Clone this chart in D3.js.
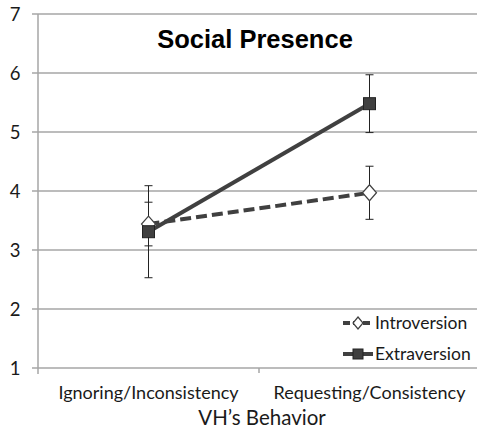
<!DOCTYPE html>
<html>
<head>
<meta charset="utf-8">
<script src="https://cdn.jsdelivr.net/npm/d3@7"></script>
<style>
  body { margin: 0; background: #fff; }
  text { font-family: Lato, "Open Sans", sans-serif; fill: #1a1a1a; }
</style>
</head>
<body>
<svg class="chart"></svg>
<script>
const categories = ['Ignoring/Inconsistency', 'Requesting/Consistency']
const introMeans = [3.44, 3.97]
const introErr = [0.37, 0.45]
const extraMeans = [3.31, 5.48]
const extraErr = [0.78, 0.49]
const yTicks = [1, 2, 3, 4, 5, 6, 7]

const margin = { top: 14, right: -3, bottom: 64, left: 38 }
const width = 477 - margin.left - margin.right,
      height = 432 - margin.top - margin.bottom

const x = d3.scaleBand()
  .domain(categories)
  .range([0, width])

const y = d3.scaleLinear()
  .domain([1, 7])
  .range([height, 0])

const svg = d3.select('.chart')
  .attr('width', 477)
  .attr('height', 432)

const chart = svg.append('g')
  .attr('transform', `translate(${margin.left}, ${margin.top})`)

// gridlines
chart.append('g')
  .selectAll('line')
  .data(yTicks)
  .enter()
  .append('line')
  .attr('x1', -6)
  .attr('x2', width)
  .attr('y1', d => y(d))
  .attr('y2', d => y(d))
  .attr('stroke', '#a6a6a6')
  .attr('stroke-width', 1.5)

// y axis line
chart.append('line')
  .attr('x1', 0).attr('x2', 0)
  .attr('y1', 0).attr('y2', height + 6)
  .attr('stroke', '#a6a6a6')
  .attr('stroke-width', 1.5)

// category boundary tick
chart.append('line')
  .attr('x1', x.bandwidth()).attr('x2', x.bandwidth())
  .attr('y1', height).attr('y2', height + 5)
  .attr('stroke', '#a6a6a6')
  .attr('stroke-width', 1.5)

// y tick labels
chart.append('g')
  .selectAll('text')
  .data(yTicks)
  .enter()
  .append('text')
  .attr('x', -23)
  .attr('y', d => y(d))
  .attr('dy', '0.36em')
  .attr('text-anchor', 'middle')
  .style('font-size', '18.5px')
  .text(d => d)

// x labels
chart.append('g')
  .selectAll('text')
  .data(categories)
  .enter()
  .append('text')
  .attr('x', d => x(d) + x.bandwidth() / 2)
  .attr('y', height + 31)
  .attr('text-anchor', 'middle')
  .style('font-size', '18px')
  .text(d => d)

chart.append('text')
  .attr('x', 224)
  .attr('y', height + 57)
  .attr('text-anchor', 'middle')
  .style('font-size', '20.5px')
  .text('VH\u2019s Behavior')

// title
svg.append('text')
  .attr('x', 255)
  .attr('y', 48)
  .attr('text-anchor', 'middle')
  .style('font-family', '"Liberation Sans", Arial, sans-serif')
  .style('font-weight', 'bold')
  .style('font-size', '25.5px')
  .style('fill', '#000')
  .text('Social Presence')

const cx = d => x(d) + x.bandwidth() / 2
const dark = '#404040'

function series(means, errs) {
  return categories.map((c, i) => ({ c: c, v: means[i], e: errs[i] }))
}
const intro = series(introMeans, introErr)
const extra = series(extraMeans, extraErr)

const line = d3.line()
  .x(d => cx(d.c))
  .y(d => y(d.v))

chart.append('path')
  .datum(intro)
  .attr('d', line)
  .attr('fill', 'none')
  .attr('stroke', dark)
  .attr('stroke-width', 4)
  .attr('stroke-dasharray', '11,5')

chart.append('path')
  .datum(extra)
  .attr('d', line)
  .attr('fill', 'none')
  .attr('stroke', dark)
  .attr('stroke-width', 4)

// error bars
function errorBars(data) {
  const g = chart.append('g')
    .selectAll('g')
    .data(data)
    .enter()
    .append('g')
    .attr('stroke', '#222')
    .attr('stroke-width', 1)
  g.append('line')
    .attr('x1', d => cx(d.c)).attr('x2', d => cx(d.c))
    .attr('y1', d => y(d.v + d.e)).attr('y2', d => y(d.v - d.e))
  g.append('line')
    .attr('x1', d => cx(d.c) - 4).attr('x2', d => cx(d.c) + 4)
    .attr('y1', d => y(d.v + d.e)).attr('y2', d => y(d.v + d.e))
  g.append('line')
    .attr('x1', d => cx(d.c) - 4).attr('x2', d => cx(d.c) + 4)
    .attr('y1', d => y(d.v - d.e)).attr('y2', d => y(d.v - d.e))
}
errorBars(extra)
errorBars(intro)

const diamond = 'M0,-8L7,0L0,8L-7,0Z'

chart.append('g')
  .selectAll('path')
  .data(intro)
  .enter()
  .append('path')
  .attr('transform', d => `translate(${cx(d.c)}, ${y(d.v)})`)
  .attr('d', diamond)
  .attr('fill', '#fff')
  .attr('stroke', dark)
  .attr('stroke-width', 1.2)

chart.append('g')
  .selectAll('rect')
  .data(extra)
  .enter()
  .append('rect')
  .attr('x', d => cx(d.c) - 6)
  .attr('y', d => y(d.v) - 6)
  .attr('width', 12)
  .attr('height', 12)
  .attr('fill', dark)
  .attr('stroke', '#222')
  .attr('stroke-width', 1)

// legend
const legendItems = [
  { name: 'Introversion', dash: '7,3', mark: 'diamond' },
  { name: 'Extraversion', dash: null, mark: 'square' }
]
const legend = svg.append('g')
  .selectAll('g')
  .data(legendItems)
  .enter()
  .append('g')
  .attr('transform', (d, i) => `translate(343, ${323 + i * 31})`)

legend.append('line')
  .attr('x1', 0).attr('x2', 30)
  .attr('stroke', dark)
  .attr('stroke-width', 4)
  .attr('stroke-dasharray', d => d.dash)

legend.filter(d => d.mark === 'diamond')
  .append('path')
  .attr('transform', 'translate(15, 0)')
  .attr('d', 'M0,-6L5,0L0,6L-5,0Z')
  .attr('fill', '#fff')
  .attr('stroke', dark)
  .attr('stroke-width', 1.2)

legend.filter(d => d.mark === 'square')
  .append('rect')
  .attr('x', 10).attr('y', -5)
  .attr('width', 10).attr('height', 10)
  .attr('fill', dark)
  .attr('stroke', '#222')

legend.append('text')
  .attr('x', 32)
  .attr('dy', '0.36em')
  .style('font-size', '17.5px')
  .text(d => d.name)
</script>
</body>
</html>
